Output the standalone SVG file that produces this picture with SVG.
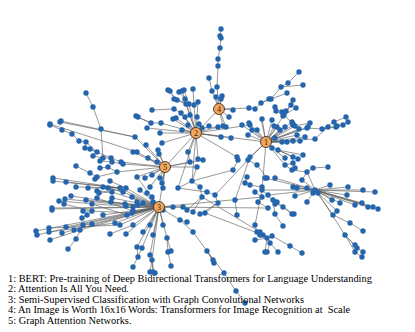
<svg xmlns="http://www.w3.org/2000/svg" xmlns:xlink="http://www.w3.org/1999/xlink" width="415" height="332" viewBox="0 0 415 332">
<style>
.e{stroke:#606060;stroke-width:0.65;fill:none}
.n{fill:#2465ad}
.h circle{fill:#f5a65b;stroke:#222;stroke-width:0.8}
.h text{font-family:"Liberation Serif",serif;font-size:8px;fill:#222;text-anchor:middle}
.lg{font-family:"Liberation Serif",serif;font-size:10.4px;fill:#000}
</style>
<defs><circle id="d" class="n" r="2.7"/></defs>
<rect width="415" height="332" fill="#fff"/>
<g id="connectors" class="e">
<path d="M168 90L177 100M169 91L177 100M179 92L185 99M182 91L185 99M184 90L189 104M193 89L194 105M174 99L186 104M177 100L189 104M185 99L190 115M198 102L197 117M186 104L196 133M189 104L196 133M194 105L196 133M174 109L181 113M152 110L174 109M136 116L151 123M137 117L151 123M151 123L161 123M161 123L196 133M173 119L196 133M176 118L196 133M181 113L196 133M185 117L196 133M190 115L196 133M197 117L196 133M199 124L196 133M209 126L196 133M188 125L196 133M182 130L196 133M202 128L196 133M147 128L196 133M160 133L196 133M162 143L196 133M188 152L196 133M198 159L196 133M221 137L196 133M231 138L196 133M219 109L196 133M165 167L196 133M266 142L196 133M192 181L196 133M237 157L196 133M178 188L196 133M250 125L196 133M218 127L196 133"/>
<path d="M221 29L220 36L221 37L220 48L218 59L218 66L217 87L219 109M209 78L212 91L219 109M216 97L219 109M222 96L219 109M221 99L219 109M226 127L219 109M233 110L219 109M219 109L249 108L255 109L261 103L271 99L281 87L288 83L299 72M281 87L303 85M271 99L287 93M229 117L219 109M223 126L219 109M269 99L261 103"/>
<path d="M275 107L284 115M276 111L284 115M286 111L284 115M282 112L284 115M283 116L284 115M293 100L284 115M291 105L284 115M296 108L284 115M284 115L266 142M262 119L266 142M272 120L266 142M274 126L266 142M277 127L266 142M292 122L266 142M293 124L284 115M295 126L266 142M307 128L266 142M310 123L295 126M299 129L266 142M322 129L307 128M334 122L322 129M346 117L334 122M337 126L322 129M343 125L337 126M348 122L337 126M336 127L322 129M261 119L266 142M242 125L266 142M249 123L266 142M257 130L266 142M252 130L266 142M248 135L266 142M280 130L266 142M285 127L266 142M293 125L266 142M308 127L266 142M315 139L266 142M275 138L266 142M282 142L266 142M287 142L266 142M293 141L266 142M300 141L266 142M297 135L266 142M272 148L266 142M278 150L266 142M285 158L272 148M293 157L278 150M298 159L278 150M303 155L278 150M328 127L315 139M305 137L266 142"/>
<path d="M158 150L165 167M159 154L165 167M148 158L165 167M157 162L165 167M152 175L165 167M160 178L165 167M162 183L165 167M145 178L165 167M137 177L165 167M133 152L165 167M146 145L165 167M135 137L165 167M190 162L165 167M197 167L165 167M159 207L165 167M117 172L165 167M123 164L165 167M121 162L165 167M137 152L165 167M203 160L165 167M150 187L165 167M163 188L165 167"/>
<path d="M50 125L62 130L72 134L79 141L86 142L97 152M85 148L97 152M90 149L97 152M97 152L111 158M93 156L103 158L111 158M100 161L112 162M100 168L108 167L117 172M111 158L121 162M112 162L123 164M60 122L135 137M61 121L135 137M50 124L137 152M86 93L93 107L101 129L103 158M76 166L90 173L97 177M95 179L97 177M97 177L117 172"/>
<path d="M53 178L120 188M53 181L120 188M66 182L120 188M76 187L126 188M88 188L126 188M110 181L126 188M103 187L123 192M108 188L123 192M97 191L112 192M99 193L112 192M112 192L159 207M120 188L159 207M126 188L159 207M123 192L159 207M112 198L159 207M111 202L159 207M71 196L125 204M65 199L126 205M59 201L133 207M86 200L138 205M97 198L133 211M92 204L127 215M64 204L92 211M52 208L159 207M52 209L159 207M83 211L92 211M87 215L92 211M82 218L92 211M92 211L132 213M103 215L159 207M125 204L159 207M126 205L159 207M133 207L159 207M138 205L159 207M127 215L159 207M132 213L159 207M133 211L159 207M137 202L159 207M143 203L159 207M152 197L159 207M153 202L159 207M36 231L159 207M37 235L159 207M49 228L120 225M49 232L115 223M66 227L159 207M62 233L74 230L159 207M80 230L159 207M83 225L92 224L159 207M50 240L80 230M76 239L83 225M68 249L76 239M120 225L159 207M115 223L159 207M110 234L133 225M126 234L159 207M133 225L159 207M137 247L159 207M138 257L137 247M163 210L159 207M173 207L159 207M183 207L159 207M150 225L159 207M163 225L159 207M143 232L159 207M153 235L159 207M142 248L159 207M150 255L159 207M152 260L159 207M150 272L152 260M153 272L152 260M154 273L152 260M133 267L142 248M167 238L159 207M168 252L167 238M171 251L167 238M171 266L168 252M180 220L159 207M187 222L180 220M193 232L180 220M207 251L193 232M213 260L207 251M214 263L207 251L224 273L236 291L245 303M268 208L159 207M262 197L159 207M147 193L159 207M140 190L159 207M132 197L159 207M137 177L159 207"/>
<path d="M192 181L200 187L202 197L187 210M202 197L193 212M207 192L215 195L218 203L200 214M218 203L205 213M215 195L248 160M235 200L237 215M235 200L250 157M238 160L233 170L192 181M237 157L238 160M247 177L245 183L250 185L262 187M255 192L262 197L258 202L268 208M267 178L257 165L248 160M250 157L266 142M248 160L266 142M178 188L192 181M198 159L203 160M188 152L190 162M197 167L192 181M202 128L218 127M207 192L178 188M202 197L260 232M205 213L263 235"/>
<path d="M307 188L315 190M297 188L315 190M293 187L315 190M313 193L315 190M318 193L315 190M330 185L315 190M348 187L315 190M363 190L315 190M375 192L315 190M347 195L315 190M332 200L315 190M340 203L315 190M355 205L315 190M362 203L315 190M368 207L315 190M373 207L315 190M378 209L315 190M307 172L315 190M302 180L315 190M337 211L315 190M295 196L315 190M262 190L315 190M268 195L315 190M265 178L315 190M275 178L315 190M307 172L313 168L328 167M302 180L307 172M292 170L307 172M295 168L292 170M285 165L292 170M293 163L285 165L266 142M273 200L262 190M277 202L283 207M275 203L283 207M283 207L292 214M283 207L293 214M275 214L273 200M283 226L275 214M307 202L315 190M333 215L315 190M350 223L333 215M363 231L350 223M345 235L318 193M355 245L345 235M357 248L345 235M363 252L357 248M362 257L355 252L345 235M262 190L266 142M262 190L255 225L257 232L267 238M260 232L267 238M263 235L267 238M272 236L267 238M270 243L267 238M267 252L270 243M278 252L270 243M290 246L272 236M302 253L290 246M255 240L267 238M265 252L267 238M260 235L267 238"/>
</g>
<g id="dots">
<use id="p1" href="#d" x="221" y="29"/><use id="p2" href="#d" x="220" y="36"/><use id="p3" href="#d" x="221" y="38"/><use id="p4" href="#d" x="220" y="48"/><use id="p5" href="#d" x="218" y="59"/><use id="p6" href="#d" x="218" y="66"/><use id="p7" href="#d" x="217" y="87"/><use id="p8" href="#d" x="209" y="78"/><use id="p9" href="#d" x="212" y="91"/><use id="p10" href="#d" x="216" y="97"/><use id="p11" href="#d" x="222" y="96"/><use id="p12" href="#d" x="221" y="99"/><use id="p13" href="#d" x="226" y="127"/><use id="p14" href="#d" x="233" y="110"/><use id="p15" href="#d" x="249" y="108"/><use id="p16" href="#d" x="255" y="109"/><use id="p17" href="#d" x="261" y="103"/><use id="p18" href="#d" x="271" y="99"/><use id="p19" href="#d" x="281" y="87"/><use id="p20" href="#d" x="288" y="83"/><use id="p21" href="#d" x="299" y="72"/><use id="p22" href="#d" x="303" y="85"/><use id="p23" href="#d" x="287" y="93"/><use id="p24" href="#d" x="229" y="117"/><use id="p25" href="#d" x="223" y="126"/><use id="p26" href="#d" x="269" y="99"/>
<use id="p27" href="#d" x="168" y="90"/><use id="p28" href="#d" x="170" y="91"/><use id="p29" href="#d" x="179" y="92"/><use id="p30" href="#d" x="182" y="91"/><use id="p31" href="#d" x="184" y="90"/><use id="p32" href="#d" x="193" y="89"/><use id="p33" href="#d" x="174" y="99"/><use id="p34" href="#d" x="177" y="100"/><use id="p35" href="#d" x="185" y="99"/><use id="p36" href="#d" x="186" y="104"/><use id="p37" href="#d" x="189" y="104"/><use id="p38" href="#d" x="194" y="105"/><use id="p39" href="#d" x="198" y="102"/><use id="p40" href="#d" x="197" y="117"/><use id="p41" href="#d" x="174" y="109"/><use id="p42" href="#d" x="152" y="110"/><use id="p43" href="#d" x="136" y="116"/><use id="p44" href="#d" x="138" y="117"/><use id="p45" href="#d" x="151" y="123"/><use id="p46" href="#d" x="161" y="123"/><use id="p47" href="#d" x="173" y="119"/><use id="p48" href="#d" x="176" y="118"/><use id="p49" href="#d" x="181" y="113"/><use id="p50" href="#d" x="185" y="117"/><use id="p51" href="#d" x="190" y="115"/><use id="p52" href="#d" x="199" y="124"/><use id="p53" href="#d" x="209" y="126"/><use id="p54" href="#d" x="188" y="125"/><use id="p55" href="#d" x="182" y="130"/><use id="p56" href="#d" x="202" y="128"/><use id="p57" href="#d" x="147" y="128"/><use id="p58" href="#d" x="160" y="133"/><use id="p59" href="#d" x="162" y="143"/><use id="p60" href="#d" x="188" y="152"/><use id="p61" href="#d" x="198" y="159"/><use id="p62" href="#d" x="221" y="137"/><use id="p63" href="#d" x="231" y="138"/><use id="p64" href="#d" x="192" y="181"/><use id="p65" href="#d" x="237" y="157"/><use id="p66" href="#d" x="178" y="188"/><use id="p67" href="#d" x="250" y="125"/><use id="p68" href="#d" x="218" y="127"/>
<use id="p69" href="#d" x="275" y="107"/><use id="p70" href="#d" x="276" y="111"/><use id="p71" href="#d" x="286" y="111"/><use id="p72" href="#d" x="282" y="112"/><use id="p73" href="#d" x="283" y="116"/><use id="p74" href="#d" x="293" y="100"/><use id="p75" href="#d" x="291" y="105"/><use id="p76" href="#d" x="296" y="108"/><use id="p77" href="#d" x="262" y="119"/><use id="p78" href="#d" x="272" y="120"/><use id="p79" href="#d" x="274" y="126"/><use id="p80" href="#d" x="277" y="127"/><use id="p81" href="#d" x="292" y="122"/><use id="p82" href="#d" x="293" y="124"/><use id="p83" href="#d" x="295" y="126"/><use id="p84" href="#d" x="307" y="128"/><use id="p85" href="#d" x="310" y="123"/><use id="p86" href="#d" x="299" y="129"/><use id="p87" href="#d" x="322" y="129"/><use id="p88" href="#d" x="334" y="122"/><use id="p89" href="#d" x="346" y="117"/><use id="p90" href="#d" x="337" y="126"/><use id="p91" href="#d" x="343" y="125"/><use id="p92" href="#d" x="348" y="122"/><use id="p93" href="#d" x="336" y="127"/><use id="p94" href="#d" x="242" y="125"/><use id="p95" href="#d" x="249" y="123"/><use id="p96" href="#d" x="257" y="130"/><use id="p97" href="#d" x="252" y="130"/><use id="p98" href="#d" x="248" y="135"/><use id="p99" href="#d" x="280" y="130"/><use id="p100" href="#d" x="285" y="127"/><use id="p101" href="#d" x="293" y="125"/><use id="p102" href="#d" x="308" y="127"/><use id="p103" href="#d" x="315" y="139"/><use id="p104" href="#d" x="275" y="138"/><use id="p105" href="#d" x="282" y="142"/><use id="p106" href="#d" x="287" y="142"/><use id="p107" href="#d" x="293" y="141"/><use id="p108" href="#d" x="300" y="141"/><use id="p109" href="#d" x="297" y="135"/><use id="p110" href="#d" x="272" y="148"/><use id="p111" href="#d" x="278" y="150"/><use id="p112" href="#d" x="285" y="158"/><use id="p113" href="#d" x="293" y="157"/><use id="p114" href="#d" x="298" y="159"/><use id="p115" href="#d" x="303" y="155"/><use id="p116" href="#d" x="328" y="127"/><use id="p117" href="#d" x="305" y="137"/><use id="p118" href="#d" x="284" y="115"/>
<use id="p119" href="#d" x="158" y="150"/><use id="p120" href="#d" x="159" y="154"/><use id="p121" href="#d" x="148" y="158"/><use id="p122" href="#d" x="157" y="162"/><use id="p123" href="#d" x="152" y="175"/><use id="p124" href="#d" x="160" y="178"/><use id="p125" href="#d" x="162" y="183"/><use id="p126" href="#d" x="145" y="178"/><use id="p127" href="#d" x="137" y="177"/><use id="p128" href="#d" x="133" y="152"/><use id="p129" href="#d" x="146" y="145"/><use id="p130" href="#d" x="135" y="137"/><use id="p131" href="#d" x="190" y="162"/><use id="p132" href="#d" x="197" y="167"/><use id="p133" href="#d" x="117" y="172"/><use id="p134" href="#d" x="123" y="164"/><use id="p135" href="#d" x="121" y="162"/><use id="p136" href="#d" x="137" y="152"/><use id="p137" href="#d" x="203" y="160"/><use id="p138" href="#d" x="150" y="187"/><use id="p139" href="#d" x="163" y="188"/>
<use id="p140" href="#d" x="50" y="125"/><use id="p141" href="#d" x="62" y="130"/><use id="p142" href="#d" x="72" y="134"/><use id="p143" href="#d" x="79" y="141"/><use id="p144" href="#d" x="86" y="142"/><use id="p145" href="#d" x="85" y="148"/><use id="p146" href="#d" x="90" y="149"/><use id="p147" href="#d" x="97" y="152"/><use id="p148" href="#d" x="93" y="156"/><use id="p149" href="#d" x="103" y="158"/><use id="p150" href="#d" x="111" y="158"/><use id="p151" href="#d" x="100" y="161"/><use id="p152" href="#d" x="112" y="162"/><use id="p153" href="#d" x="100" y="168"/><use id="p154" href="#d" x="108" y="167"/><use id="p155" href="#d" x="60" y="122"/><use id="p156" href="#d" x="61" y="121"/><use id="p157" href="#d" x="50" y="124"/><use id="p158" href="#d" x="86" y="93"/><use id="p159" href="#d" x="93" y="107"/><use id="p160" href="#d" x="101" y="129"/><use id="p161" href="#d" x="76" y="166"/><use id="p162" href="#d" x="90" y="173"/><use id="p163" href="#d" x="97" y="177"/><use id="p164" href="#d" x="95" y="179"/>
<use id="p165" href="#d" x="53" y="178"/><use id="p166" href="#d" x="53" y="181"/><use id="p167" href="#d" x="66" y="182"/><use id="p168" href="#d" x="120" y="188"/><use id="p169" href="#d" x="76" y="187"/><use id="p170" href="#d" x="126" y="188"/><use id="p171" href="#d" x="88" y="188"/><use id="p172" href="#d" x="110" y="181"/><use id="p173" href="#d" x="103" y="187"/><use id="p174" href="#d" x="123" y="192"/><use id="p175" href="#d" x="108" y="188"/><use id="p176" href="#d" x="97" y="191"/><use id="p177" href="#d" x="99" y="193"/><use id="p178" href="#d" x="112" y="192"/><use id="p179" href="#d" x="112" y="198"/><use id="p180" href="#d" x="111" y="202"/><use id="p181" href="#d" x="71" y="196"/><use id="p182" href="#d" x="125" y="204"/><use id="p183" href="#d" x="65" y="199"/><use id="p184" href="#d" x="126" y="206"/><use id="p185" href="#d" x="59" y="201"/><use id="p186" href="#d" x="133" y="207"/><use id="p187" href="#d" x="86" y="200"/><use id="p188" href="#d" x="138" y="205"/><use id="p189" href="#d" x="97" y="198"/><use id="p190" href="#d" x="133" y="211"/><use id="p191" href="#d" x="92" y="204"/><use id="p192" href="#d" x="127" y="215"/><use id="p193" href="#d" x="64" y="204"/><use id="p194" href="#d" x="92" y="211"/><use id="p195" href="#d" x="52" y="208"/><use id="p196" href="#d" x="52" y="210"/><use id="p197" href="#d" x="83" y="211"/><use id="p198" href="#d" x="87" y="215"/><use id="p199" href="#d" x="82" y="218"/><use id="p200" href="#d" x="132" y="213"/><use id="p201" href="#d" x="103" y="215"/><use id="p202" href="#d" x="137" y="202"/><use id="p203" href="#d" x="143" y="203"/><use id="p204" href="#d" x="152" y="197"/><use id="p205" href="#d" x="153" y="202"/><use id="p206" href="#d" x="36" y="231"/><use id="p207" href="#d" x="37" y="235"/><use id="p208" href="#d" x="49" y="228"/><use id="p209" href="#d" x="120" y="225"/><use id="p210" href="#d" x="49" y="232"/><use id="p211" href="#d" x="115" y="223"/><use id="p212" href="#d" x="66" y="227"/><use id="p213" href="#d" x="62" y="233"/><use id="p214" href="#d" x="74" y="230"/><use id="p215" href="#d" x="80" y="230"/><use id="p216" href="#d" x="83" y="225"/><use id="p217" href="#d" x="92" y="224"/><use id="p218" href="#d" x="50" y="240"/><use id="p219" href="#d" x="76" y="239"/><use id="p220" href="#d" x="68" y="249"/><use id="p221" href="#d" x="110" y="234"/><use id="p222" href="#d" x="133" y="225"/><use id="p223" href="#d" x="126" y="234"/><use id="p224" href="#d" x="137" y="247"/><use id="p225" href="#d" x="138" y="257"/><use id="p226" href="#d" x="163" y="210"/><use id="p227" href="#d" x="173" y="207"/><use id="p228" href="#d" x="183" y="207"/><use id="p229" href="#d" x="150" y="225"/><use id="p230" href="#d" x="163" y="225"/><use id="p231" href="#d" x="143" y="232"/><use id="p232" href="#d" x="153" y="235"/><use id="p233" href="#d" x="142" y="248"/><use id="p234" href="#d" x="150" y="255"/><use id="p235" href="#d" x="152" y="260"/><use id="p236" href="#d" x="150" y="272"/><use id="p237" href="#d" x="153" y="272"/><use id="p238" href="#d" x="155" y="273"/><use id="p239" href="#d" x="133" y="267"/><use id="p240" href="#d" x="167" y="238"/><use id="p241" href="#d" x="168" y="252"/><use id="p242" href="#d" x="171" y="251"/><use id="p243" href="#d" x="171" y="266"/><use id="p244" href="#d" x="180" y="220"/><use id="p245" href="#d" x="187" y="222"/><use id="p246" href="#d" x="193" y="232"/><use id="p247" href="#d" x="207" y="251"/><use id="p248" href="#d" x="213" y="260"/><use id="p249" href="#d" x="214" y="263"/><use id="p250" href="#d" x="224" y="273"/><use id="p251" href="#d" x="236" y="291"/><use id="p252" href="#d" x="245" y="303"/><use id="p253" href="#d" x="268" y="208"/><use id="p254" href="#d" x="262" y="197"/><use id="p255" href="#d" x="147" y="193"/><use id="p256" href="#d" x="140" y="190"/><use id="p257" href="#d" x="132" y="197"/>
<use id="p258" href="#d" x="200" y="187"/><use id="p259" href="#d" x="202" y="197"/><use id="p260" href="#d" x="187" y="210"/><use id="p261" href="#d" x="193" y="212"/><use id="p262" href="#d" x="207" y="192"/><use id="p263" href="#d" x="215" y="195"/><use id="p264" href="#d" x="218" y="203"/><use id="p265" href="#d" x="200" y="214"/><use id="p266" href="#d" x="205" y="213"/><use id="p267" href="#d" x="248" y="160"/><use id="p268" href="#d" x="235" y="200"/><use id="p269" href="#d" x="237" y="215"/><use id="p270" href="#d" x="250" y="157"/><use id="p271" href="#d" x="238" y="160"/><use id="p272" href="#d" x="233" y="170"/><use id="p273" href="#d" x="247" y="177"/><use id="p274" href="#d" x="245" y="183"/><use id="p275" href="#d" x="250" y="185"/><use id="p276" href="#d" x="262" y="187"/><use id="p277" href="#d" x="255" y="192"/><use id="p278" href="#d" x="258" y="202"/><use id="p279" href="#d" x="267" y="178"/><use id="p280" href="#d" x="257" y="165"/>
<use id="p281" href="#d" x="307" y="188"/><use id="p282" href="#d" x="297" y="188"/><use id="p283" href="#d" x="293" y="187"/><use id="p284" href="#d" x="313" y="193"/><use id="p285" href="#d" x="318" y="193"/><use id="p286" href="#d" x="330" y="185"/><use id="p287" href="#d" x="348" y="187"/><use id="p288" href="#d" x="363" y="190"/><use id="p289" href="#d" x="375" y="192"/><use id="p290" href="#d" x="347" y="195"/><use id="p291" href="#d" x="332" y="200"/><use id="p292" href="#d" x="340" y="203"/><use id="p293" href="#d" x="355" y="205"/><use id="p294" href="#d" x="362" y="203"/><use id="p295" href="#d" x="368" y="207"/><use id="p296" href="#d" x="373" y="207"/><use id="p297" href="#d" x="378" y="209"/><use id="p298" href="#d" x="307" y="172"/><use id="p299" href="#d" x="302" y="180"/><use id="p300" href="#d" x="337" y="211"/><use id="p301" href="#d" x="295" y="196"/><use id="p302" href="#d" x="262" y="190"/><use id="p303" href="#d" x="268" y="195"/><use id="p304" href="#d" x="307" y="202"/><use id="p305" href="#d" x="315" y="190"/><use id="p306" href="#d" x="265" y="178"/><use id="p307" href="#d" x="275" y="178"/><use id="p308" href="#d" x="313" y="168"/><use id="p309" href="#d" x="328" y="167"/><use id="p310" href="#d" x="292" y="170"/><use id="p311" href="#d" x="295" y="168"/><use id="p312" href="#d" x="285" y="165"/><use id="p313" href="#d" x="293" y="163"/><use id="p314" href="#d" x="273" y="200"/><use id="p315" href="#d" x="277" y="202"/><use id="p316" href="#d" x="275" y="204"/><use id="p317" href="#d" x="283" y="207"/><use id="p318" href="#d" x="292" y="214"/><use id="p319" href="#d" x="294" y="214"/><use id="p320" href="#d" x="275" y="214"/><use id="p321" href="#d" x="283" y="226"/><use id="p322" href="#d" x="333" y="215"/><use id="p323" href="#d" x="350" y="223"/><use id="p324" href="#d" x="363" y="231"/><use id="p325" href="#d" x="345" y="235"/><use id="p326" href="#d" x="355" y="245"/><use id="p327" href="#d" x="357" y="248"/><use id="p328" href="#d" x="363" y="252"/><use id="p329" href="#d" x="362" y="257"/><use id="p330" href="#d" x="355" y="252"/><use id="p331" href="#d" x="255" y="225"/><use id="p332" href="#d" x="257" y="232"/><use id="p333" href="#d" x="267" y="238"/><use id="p334" href="#d" x="260" y="232"/><use id="p335" href="#d" x="263" y="235"/><use id="p336" href="#d" x="272" y="236"/><use id="p337" href="#d" x="270" y="243"/><use id="p338" href="#d" x="267" y="252"/><use id="p339" href="#d" x="278" y="252"/><use id="p340" href="#d" x="290" y="246"/><use id="p341" href="#d" x="302" y="253"/><use id="p342" href="#d" x="255" y="240"/><use id="p343" href="#d" x="265" y="252"/><use id="p344" href="#d" x="260" y="235"/>
</g>
<g id="node1" class="h"><circle cx="266" cy="142" r="5.5"/><text x="266" y="145">1</text></g>
<g id="node2" class="h"><circle cx="196" cy="133" r="5.5"/><text x="196" y="136">2</text></g>
<g id="node3" class="h"><circle cx="159" cy="207" r="5.5"/><text x="159" y="210">3</text></g>
<g id="node4" class="h"><circle cx="219" cy="109" r="5.5"/><text x="219" y="112">4</text></g>
<g id="node5" class="h"><circle cx="165" cy="167" r="5.5"/><text x="165" y="170">5</text></g>
<g id="legend" class="lg">
<text x="8" y="281.5">1: BERT: Pre-training of Deep Bidirectional Transformers for Language Understanding</text>
<text x="8" y="292">2: Attention Is All You Need.</text>
<text x="8" y="302.5">3: Semi-Supervised Classification with Graph Convolutional Networks</text>
<text x="8" y="313" xml:space="preserve">4: An Image is Worth 16x16 Words: Transformers for Image Recognition at  Scale</text>
<text x="8" y="323.5">5: Graph Attention Networks.</text>
</g>
</svg>
